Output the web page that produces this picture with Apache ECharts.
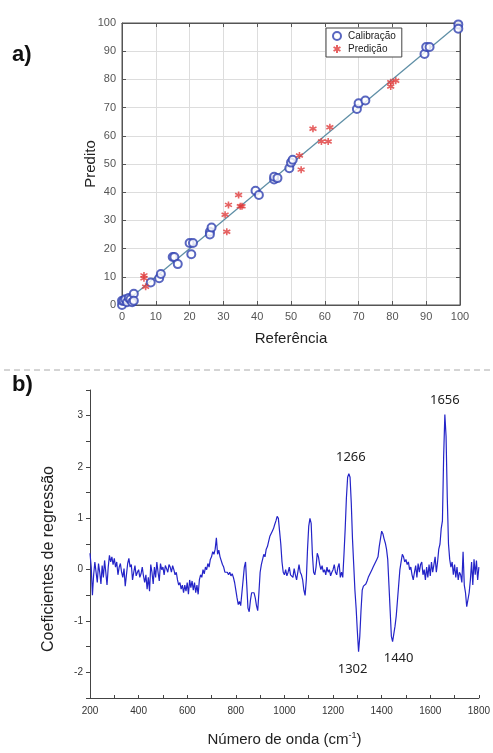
<!DOCTYPE html>
<html>
<head>
<meta charset="utf-8">
<script src="https://cdn.jsdelivr.net/npm/echarts@6/dist/echarts.min.js"></script>
<style>
html,body{margin:0;padding:0;background:#fff;}
#main{width:493px;height:753px;}
</style>
</head>
<body>
<div id="main"></div>
<script>
// ---------- Panel a) data ----------
const calibRef  = [0,0,0.5,1,1.5,2,2.5,3,3.5,3.5,8.5,11,11.5,15,15.5,16.5,20,20.5,21,26,26,26.5,39.5,40.5,45,45,46,49.5,50,50.5,69.5,70,72,89.5,90,91,99.5,99.5];
const calibPred = [0,1.5,1.5,2,1,2.5,2,1,4,1.5,8,9.5,11,17,17,14.5,22,18,22,26,25,27.5,40.5,39,44.5,45.5,45,48.5,50.5,51.5,69.5,71.5,72.5,89,91.5,91.5,99.5,98];
const predRef   = [6.5,6.5,7,30.5,31,31.5,34.5,35,35.5,52.5,53,56.5,59,61,61.5,79.5,79.5,81];
const predPred  = [10.5,9.5,6.5,32,26,35.5,39,35,35,53,48,62.5,58,58,63,79,77.5,79.5];
const fitLine   = [[0,0],[100,100]];

// ---------- Panel b) data ----------
const spectrum = [
[200,0.32],[205,0.05],[210,-0.50],[215,-0.10],[220,0.15],[225,-0.05],[230,-0.25],[235,0.12],[240,-0.05],[245,-0.28],
[250,0.08],[255,-0.15],[260,0.18],[265,-0.05],[270,-0.30],[275,0.05],[280,0.28],[285,0.15],[290,0.25],[295,0.10],
[300,0.22],[305,0.05],[310,0.15],[315,-0.10],[320,0.05],[325,0.12],[330,-0.05],[335,-0.15],[340,0.02],[345,-0.32],
[350,-0.10],[355,0.12],[360,0.22],[365,0.05],[370,0.10],[375,-0.20],[380,-0.05],[385,0.08],[390,-0.12],[395,-0.05],
[400,0.00],[405,-0.15],[410,-0.08],[415,0.05],[420,-0.12],[425,-0.25],[430,-0.10],[435,-0.38],[440,-0.15],[445,-0.42],
[450,0.10],[455,-0.05],[460,-0.28],[465,0.05],[470,-0.15],[475,0.15],[480,-0.05],[485,-0.22],[490,0.12],[495,0.00],
[500,0.05],[505,-0.10],[510,0.08],[515,0.02],[520,-0.05],[525,0.10],[530,0.05],[535,-0.05],[540,0.08],[545,0.00],
[550,-0.10],[555,-0.05],[560,-0.20],[565,-0.30],[570,-0.25],[575,-0.38],[580,-0.30],[585,-0.45],[590,-0.30],[595,-0.42],
[600,-0.25],[605,-0.48],[610,-0.20],[615,-0.35],[620,-0.22],[625,-0.40],[630,-0.25],[635,-0.45],[640,-0.30],[645,-0.48],
[650,-0.20],[655,-0.10],[660,-0.15],[665,0.00],[670,-0.08],[675,0.05],[680,0.00],[685,0.12],[690,0.05],[695,0.20],
[700,0.25],[705,0.35],[710,0.30],[715,0.40],[720,0.62],[725,0.30],[730,0.38],[735,0.25],[740,0.28],[745,0.10],
[750,0.05],[755,-0.05],[760,-0.08],[765,-0.05],[770,-0.10],[775,-0.05],[780,-0.12],[785,-0.08],[790,-0.15],[795,-0.25],
[800,-0.40],[805,-0.55],[810,-0.68],[815,-0.62],[820,-0.70],[825,-0.45],[830,-0.20],[835,0.05],[840,0.15],[845,-0.30],
[850,-0.75],[855,-0.82],[860,-0.60],[865,-0.45],[870,-0.42],[875,-0.45],[880,-0.55],[885,-0.70],[890,-0.80],[895,-0.45],
[900,-0.05],[905,0.10],[910,0.08],[915,0.30],[920,0.25],[925,0.40],[930,0.45],[935,0.55],[940,0.65],[945,0.70],
[950,0.75],[955,0.80],[960,0.88],[965,0.95],[970,1.04],[975,1.00],[980,0.75],[985,0.50],[990,0.15],[995,-0.05],
[1000,-0.10],[1005,0.00],[1010,-0.12],[1015,-0.05],[1020,0.05],[1025,-0.10],[1030,-0.08],[1035,-0.15],[1040,0.02],[1045,-0.10],
[1050,-0.20],[1055,-0.05],[1060,0.10],[1065,-0.05],[1070,-0.10],[1075,-0.20],[1080,-0.40],[1085,-0.50],[1090,-0.20],[1095,0.40],
[1100,0.85],[1105,1.00],[1110,0.90],[1115,0.30],[1120,-0.05],[1125,-0.10],[1130,0.05],[1135,0.32],[1140,0.25],[1145,0.10],
[1150,0.00],[1155,0.08],[1160,-0.05],[1165,0.00],[1170,-0.10],[1175,0.05],[1180,-0.05],[1185,0.00],[1190,-0.12],[1195,-0.05],
[1200,0.00],[1205,0.10],[1210,-0.05],[1215,-0.10],[1220,0.05],[1225,0.12],[1230,-0.15],[1235,-0.05],[1240,-0.15],[1245,0.30],
[1250,0.80],[1255,1.40],[1260,1.80],[1265,1.87],[1270,1.80],[1275,1.30],[1280,0.60],[1285,0.10],[1290,-0.40],[1295,-0.75],
[1300,-1.20],[1305,-1.60],[1310,-1.30],[1315,-0.80],[1320,-0.40],[1325,-0.32],[1330,-0.30],[1335,-0.28],[1340,-0.22],[1345,-0.15],
[1350,-0.10],[1355,-0.05],[1360,0.00],[1365,0.05],[1370,0.10],[1375,0.15],[1380,0.20],[1385,0.25],[1390,0.45],[1395,0.60],
[1400,0.75],[1405,0.70],[1410,0.60],[1415,0.52],[1420,0.40],[1425,0.20],[1430,-0.30],[1435,-0.80],[1440,-1.30],[1445,-1.40],
[1450,-1.38],[1455,-1.10],[1460,-0.90],[1465,-0.60],[1470,-0.30],[1475,0.00],[1480,0.15],[1485,0.30],[1490,0.25],[1495,0.15],
[1500,0.20],[1505,0.10],[1510,0.15],[1515,0.00],[1520,0.05],[1525,-0.10],[1530,-0.20],[1535,-0.05],[1540,0.08],[1545,-0.15],
[1550,0.12],[1555,-0.05],[1560,0.10],[1565,0.15],[1570,-0.10],[1575,0.00],[1580,-0.20],[1585,0.05],[1590,-0.15],[1595,0.10],
[1600,-0.12],[1605,0.15],[1610,-0.05],[1615,0.10],[1620,0.25],[1625,-0.05],[1630,0.15],[1635,0.40],[1640,0.50],[1645,0.80],
[1650,0.95],[1655,2.20],[1660,3.02],[1665,2.60],[1670,1.40],[1675,0.50],[1680,0.20],[1685,0.05],[1690,0.15],[1695,-0.10],
[1700,0.10],[1705,-0.15],[1710,0.05],[1715,-0.20],[1720,-0.05],[1725,-0.10],[1730,-0.25],[1735,0.35],[1740,-0.30],[1745,-0.45],
[1750,-0.72],[1755,-0.75],[1760,-0.45],[1765,-0.20],[1770,0.15],[1775,-0.30],[1780,0.20],[1785,-0.10],[1790,0.18],[1795,-0.20],
[1800,0.05]
];
const peakNames  = ['1656','1266','1302','1440'];
const peakCoords = [[1660,3.02],[1265,1.87],[1305,-1.60],[1445,-1.40]];
const peakOffsets = [[0,-14],[2,-16],[-6,17],[6,17]];

const font = 'Liberation Sans, Arial, sans-serif';
const chart = echarts.init(document.getElementById('main'), null, {renderer:'canvas'});

const asterisk = 'path://M5 0L5 10M0.7 2.5L9.3 7.5M9.3 2.5L0.7 7.5';

const option = {
  backgroundColor:'#fff',
  animation:false,
  grid:[
    {left:122, top:23, width:338, height:282, show:true, borderColor:'#555', borderWidth:1, backgroundColor:'#fff'},
    {left:90, top:390, width:390, height:308}
  ],
  legend:{
    data:['Calibração','Predição'],
    orient:'vertical', left:326, top:28,
    itemWidth:12, itemHeight:8, itemGap:3,
    padding:[3,6,3,6],
    borderColor:'#444', borderWidth:1, backgroundColor:'#fff',
    textStyle:{fontFamily:font, fontSize:10, color:'#222'}
  },
  xAxis:[
    {gridIndex:0, type:'value', min:0, max:100, interval:10,
     name:'Referência', nameLocation:'middle', nameGap:26,
     nameTextStyle:{fontFamily:font, fontSize:15, color:'#222'},
     axisLine:{show:true, onZero:false, lineStyle:{color:'#555'}},
     axisTick:{show:true, inside:true, length:4, lineStyle:{color:'#555'}},
     axisLabel:{fontFamily:font, fontSize:11, color:'#555', margin:6},
     splitLine:{show:true, lineStyle:{color:'#ddd', width:1}}},
    {gridIndex:0, type:'value', position:'top', min:0, max:100, interval:10,
     axisLine:{show:true, onZero:false, lineStyle:{color:'#555'}},
     axisTick:{show:true, inside:true, length:4, lineStyle:{color:'#555'}},
     axisLabel:{show:false}, splitLine:{show:false}},
    {gridIndex:1, type:'value', min:200, max:1800, interval:200,
     name:'Número de onda (cm{sup|-1})', nameLocation:'middle', nameGap:33,
     nameTextStyle:{fontFamily:font, fontSize:15, color:'#222',
       rich:{sup:{fontFamily:font, fontSize:9, color:'#222', verticalAlign:'top', padding:[0,0,8,0]}}},
     axisLine:{show:true, onZero:false, lineStyle:{color:'#444'}},
     axisTick:{show:true, inside:true, length:3, lineStyle:{color:'#444'}},
     minorTick:{show:true, splitNumber:2, length:3, lineStyle:{color:'#444'}},
     axisLabel:{fontFamily:font, fontSize:10, color:'#333', margin:8,
       formatter:function(v){ return String(v); }},
     splitLine:{show:false}}
  ],
  yAxis:[
    {gridIndex:0, type:'value', min:0, max:100, interval:10,
     name:'Predito', nameLocation:'middle', nameGap:24, nameMoveOverlap:false,
     nameTextStyle:{fontFamily:font, fontSize:15, color:'#222'},
     axisLine:{show:true, onZero:false, lineStyle:{color:'#555'}},
     axisTick:{show:true, inside:true, length:4, lineStyle:{color:'#555'}},
     axisLabel:{fontFamily:font, fontSize:11, color:'#555', margin:6},
     splitLine:{show:true, lineStyle:{color:'#ddd', width:1}}},
    {gridIndex:0, type:'value', position:'right', min:0, max:100, interval:10,
     axisLine:{show:true, onZero:false, lineStyle:{color:'#555'}},
     axisTick:{show:true, inside:true, length:4, lineStyle:{color:'#555'}},
     axisLabel:{show:false}, splitLine:{show:false}},
    {gridIndex:1, type:'value', min:-2.5, max:3.5, interval:0.5,
     name:'Coeficientes de regressão', nameLocation:'middle', nameGap:33, nameMoveOverlap:false,
     nameTextStyle:{fontFamily:font, fontSize:16, color:'#222', padding:[0,30,0,0]},
     axisLine:{show:true, onZero:false, lineStyle:{color:'#444'}},
     axisTick:{show:true, inside:false, length:4, lineStyle:{color:'#444'}},
     axisLabel:{fontFamily:font, fontSize:10, color:'#333', margin:7,
       formatter:function(v){ return Math.abs(v - Math.round(v))<1e-9 ? String(Math.round(v)) : ''; }},
     splitLine:{show:false}}
  ],
  series:[
    {type:'line', xAxisIndex:0, yAxisIndex:0, data:fitLine, showSymbol:false, symbol:'none',
     lineStyle:{color:'#5f8fa6', width:1.3}, silent:true, z:2},
    {name:'Calibração', type:'scatter', xAxisIndex:0, yAxisIndex:0,
     data:calibRef.map((x,i)=>[x,calibPred[i]]),
     symbol:'emptyCircle', symbolSize:8,
     itemStyle:{color:'#3040b0', borderColor:'#3040b0', borderWidth:1.1}, z:3},
    {name:'Predição', type:'scatter', xAxisIndex:0, yAxisIndex:0,
     data:predRef.map((x,i)=>[x,predPred[i]]),
     symbol:asterisk, symbolSize:7,
     itemStyle:{color:'#e03a3a', borderColor:'#e03a3a', borderWidth:1.6}, z:4},
    {type:'line', xAxisIndex:2, yAxisIndex:2, data:spectrum, showSymbol:false, symbol:'none',
     lineStyle:{color:'#2424c8', width:1.2},
     markPoint:{
       symbol:'circle', symbolSize:1, itemStyle:{color:'rgba(0,0,0,0)'},
       label:{show:true, formatter:'{b}', fontFamily:'Noto Sans, Open Sans, sans-serif', fontSize:13, color:'#222'},
       data:peakNames.map((n,i)=>({name:n, coord:peakCoords[i], label:{offset:peakOffsets[i]}}))
     }}
  ],
  graphic:[
    {type:'text', left:12, top:44, style:{text:'a)', font:'bold 22px Liberation Sans, Arial, sans-serif', fill:'#111'}},
    {type:'text', left:12, top:374, style:{text:'b)', font:'bold 22px Liberation Sans, Arial, sans-serif', fill:'#111'}},
    {type:'line', shape:{x1:4, y1:370, x2:493, y2:370}, style:{stroke:'#aaa', lineWidth:1, lineDash:[6,4]}}
  ]
};
chart.setOption(option);
</script>
</body>
</html>
